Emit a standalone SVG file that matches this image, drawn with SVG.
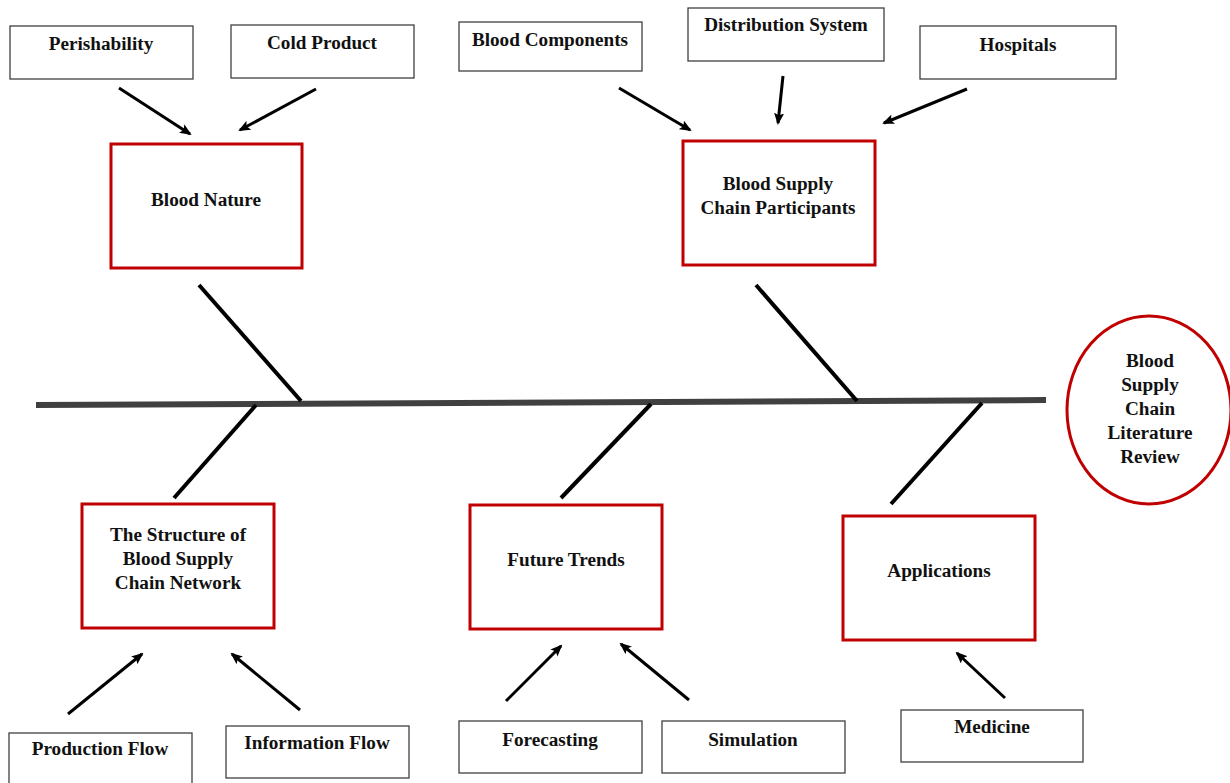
<svg xmlns="http://www.w3.org/2000/svg" width="1230" height="783" viewBox="0 0 1230 783">
<style>
.box{fill:#fff;stroke:#404040;stroke-width:1.3}
.main{fill:#fff;stroke:#c00000;stroke-width:3}
.t{font-family:"Liberation Serif","Times New Roman",serif;font-weight:bold;font-size:19.2px;fill:#111;text-anchor:middle}
.bone{stroke:#000;stroke-width:4;fill:none;stroke-linecap:butt}
.arr{stroke:#000;stroke-width:3;fill:none;marker-end:url(#ah)}
</style>
<defs>
<marker id="ah" markerWidth="12" markerHeight="10" refX="10" refY="5" orient="auto" markerUnits="userSpaceOnUse">
<path d="M0,0 L12,5 L0,10 L2.5,5 Z" fill="#000"/>
</marker>
</defs>
<rect width="1230" height="783" fill="#fff"/>
<g id="connectors">
<line x1="36" y1="405" x2="1046" y2="400" stroke="#404040" stroke-width="6"/>
<line class="bone" x1="199" y1="285" x2="301" y2="401"/>
<line class="bone" x1="756" y1="285" x2="857" y2="401"/>
<line class="bone" x1="256" y1="405" x2="174" y2="498"/>
<line class="bone" x1="651" y1="404" x2="561" y2="498"/>
<line class="bone" x1="982" y1="403" x2="891" y2="504"/>
<line class="arr" x1="119" y1="88" x2="190" y2="134"/>
<line class="arr" x1="316" y1="89" x2="240" y2="130"/>
<line class="arr" x1="619" y1="88" x2="690" y2="130"/>
<line class="arr" x1="783" y1="76" x2="778" y2="123"/>
<line class="arr" x1="967" y1="89" x2="884" y2="123"/>
<line class="arr" x1="68" y1="714" x2="142" y2="654"/>
<line class="arr" x1="300" y1="710" x2="232" y2="654"/>
<line class="arr" x1="506" y1="701" x2="561" y2="646"/>
<line class="arr" x1="689" y1="700" x2="621" y2="644"/>
<line class="arr" x1="1005" y1="698" x2="957" y2="653"/>
</g>
<g id="perishability"><rect class="box" x="10" y="26" width="183" height="53"/><text class="t" x="101" y="50">Perishability</text></g>
<g id="cold-product"><rect class="box" x="231" y="25" width="183" height="53"/><text class="t" x="322" y="49">Cold Product</text></g>
<g id="blood-components"><rect class="box" x="459" y="22" width="183" height="49"/><text class="t" x="550" y="46">Blood Components</text></g>
<g id="distribution-system"><rect class="box" x="688" y="8" width="196" height="53"/><text class="t" x="786" y="31">Distribution System</text></g>
<g id="hospitals"><rect class="box" x="920" y="26" width="196" height="53"/><text class="t" x="1018" y="51">Hospitals</text></g>
<g id="blood-nature"><rect class="main" x="111" y="144" width="191" height="124"/><text class="t" x="206" y="206">Blood Nature</text></g>
<g id="bsc-participants"><rect class="main" x="683" y="141" width="192" height="124"/><text class="t" x="778" y="190">Blood Supply</text><text class="t" x="778" y="214">Chain Participants</text></g>
<g id="literature-review"><ellipse cx="1149" cy="410" rx="82" ry="94" fill="#fff" stroke="#c00000" stroke-width="3"/>
<text class="t" x="1150" y="367">Blood</text><text class="t" x="1150" y="391">Supply</text><text class="t" x="1150" y="415">Chain</text><text class="t" x="1150" y="439">Literature</text><text class="t" x="1150" y="463">Review</text></g>
<g id="structure"><rect class="main" x="82" y="504" width="192" height="124"/><text class="t" x="178" y="541">The Structure of</text><text class="t" x="178" y="565">Blood Supply</text><text class="t" x="178" y="589">Chain Network</text></g>
<g id="future-trends"><rect class="main" x="470" y="505" width="192" height="124"/><text class="t" x="566" y="566">Future Trends</text></g>
<g id="applications"><rect class="main" x="843" y="516" width="192" height="124"/><text class="t" x="939" y="577">Applications</text></g>
<g id="production-flow"><rect class="box" x="9" y="733" width="183" height="56"/><text class="t" x="100" y="755">Production Flow</text></g>
<g id="information-flow"><rect class="box" x="226" y="726" width="183" height="52"/><text class="t" x="317" y="749">Information Flow</text></g>
<g id="forecasting"><rect class="box" x="459" y="721" width="183" height="52"/><text class="t" x="550" y="746">Forecasting</text></g>
<g id="simulation"><rect class="box" x="662" y="721" width="183" height="52"/><text class="t" x="753" y="746">Simulation</text></g>
<g id="medicine"><rect class="box" x="901" y="710" width="182" height="52"/><text class="t" x="992" y="733">Medicine</text></g>
</svg>
